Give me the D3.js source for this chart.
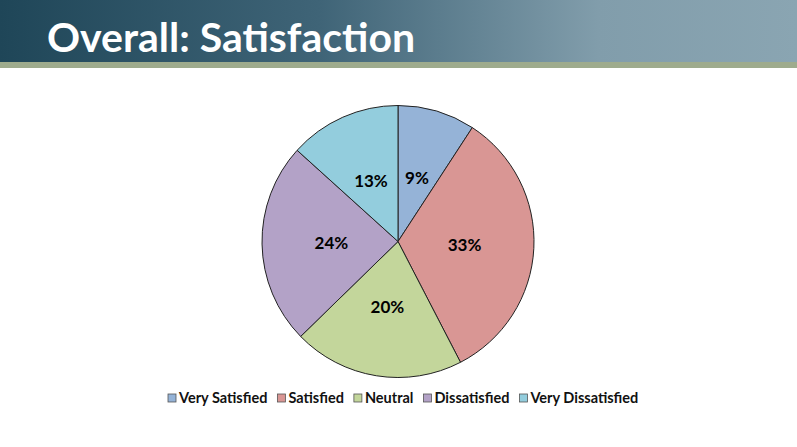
<!DOCTYPE html>
<html>
<head>
<meta charset="utf-8">
<script src="https://cdn.jsdelivr.net/npm/d3@7"></script>
<style>
  body { margin: 0; background: #fff; }
  svg { display: block; font-family: Lato, "Open Sans", sans-serif; }
</style>
</head>
<body>
<svg id="chart" width="797" height="447"></svg>
<script>
// データ
const categories = ['Very Satisfied', 'Satisfied', 'Neutral', 'Dissatisfied', 'Very Dissatisfied'];
const shares = [9.2, 33.2, 20.3, 24.0, 13.3];
const labels = ['9%', '33%', '20%', '24%', '13%'];
const colors = ['#95b3d7', '#d99694', '#c3d69b', '#b3a2c7', '#93cddd'];
const title = 'Overall: Satisfaction';

const svg = d3.select('#chart');
const W = 797, H = 447;

// ヘッダー
const defs = svg.append('defs');
const grad = defs.append('linearGradient').attr('id', 'hdr').attr('x1', 0).attr('x2', 1).attr('y1', 0).attr('y2', 0);
grad.append('stop').attr('offset', '0%').attr('stop-color', '#1f4658');
grad.append('stop').attr('offset', '40%').attr('stop-color', '#3f6477');
grad.append('stop').attr('offset', '75%').attr('stop-color', '#819dab');
grad.append('stop').attr('offset', '100%').attr('stop-color', '#8aa5b2');

svg.append('rect').attr('x', 0).attr('y', 0).attr('width', W).attr('height', 62).attr('fill', 'url(#hdr)');
svg.append('rect').attr('x', 0).attr('y', 62).attr('width', W).attr('height', 6).attr('fill', '#9eab8d');

svg.append('text')
    .attr('x', 47).attr('y', 52)
    .attr('fill', '#fff')
    .style('font-size', '41px')
    .style('font-weight', 'bold')
    .text(title);

// パイ
const cx = 398, cy = 241.5, r = 136;
const g = svg.append('g').attr('transform', `translate(${cx}, ${cy})`);

const pie = d3.pie().sort(null).value(d => d);
const arcs = pie(shares);
const arc = d3.arc().innerRadius(0).outerRadius(r);
const labelArc = d3.arc().innerRadius(r * 0.49).outerRadius(r * 0.49);

g.selectAll('path')
    .data(arcs)
    .join('path')
    .attr('d', arc)
    .attr('fill', (d, i) => colors[i])
    .attr('stroke', '#222')
    .attr('stroke-width', 1);

g.selectAll('text')
    .data(arcs)
    .join('text')
    .attr('transform', d => `translate(${labelArc.centroid(d)})`)
    .attr('text-anchor', 'middle')
    .attr('dy', '0.35em')
    .style('font-size', '17px')
    .style('font-weight', 'bold')
    .attr('fill', '#000')
    .text((d, i) => labels[i]);

// 凡例
const legend = svg.append('g').attr('transform', 'translate(0, 398)');
const items = legend.selectAll('g')
    .data(categories)
    .join('g');

items.append('rect')
    .attr('y', -4)
    .attr('width', 8).attr('height', 8)
    .attr('fill', (d, i) => colors[i])
    .attr('stroke', '#555')
    .attr('stroke-width', 0.8);

items.append('text')
    .attr('x', 11)
    .attr('dy', '0.35em')
    .style('font-size', '14.5px')
    .style('font-weight', 'bold')
    .attr('fill', '#111')
    .text(d => d);

let xpos = 168;
items.each(function () {
    const w = d3.select(this).select('text').node().getComputedTextLength();
    d3.select(this).attr('transform', `translate(${xpos}, 0)`);
    xpos += 11 + w + 10;
});
</script>
</body>
</html>
